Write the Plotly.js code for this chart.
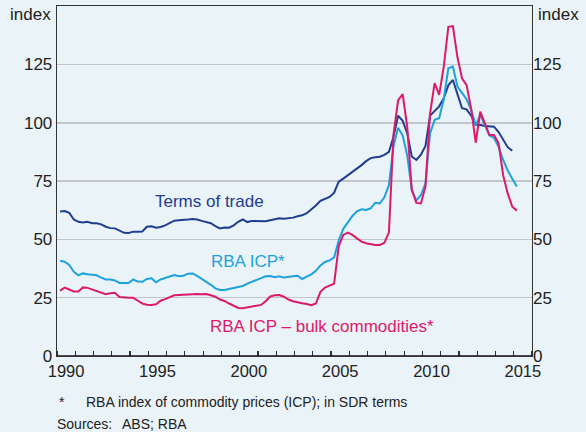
<!DOCTYPE html>
<html>
<head>
<meta charset="utf-8">
<script src="https://cdn.plot.ly/plotly-3.0.1.min.js"></script>
<style>
  html, body { margin:0; padding:0; background:#eaf3f7; }
  #chart { width:586px; height:432px; }
</style>
</head>
<body>
<div id="chart"></div>
<script>
// ---- Data (quarterly, from 1990 Q1) ----
const startYear = 1990;

const termsOfTrade = [
  61.9, 62.1, 61.4, 58.5,   57.5, 57.2, 57.5, 56.9,   56.9, 56.4, 55.4, 54.8,
  54.7, 53.7, 52.8, 52.7,   53.3, 53.3, 53.4, 55.4,   55.6, 55.0, 55.3, 56.0,
  56.9, 58.0, 58.2, 58.2,   58.5, 58.7, 58.5, 57.9,   57.5, 56.9, 55.7, 54.7,
  55.1, 55.0, 56.0, 57.5,   58.5, 57.4, 57.9, 57.9,   57.8, 57.8, 58.2, 58.5,
  59.0, 58.8, 58.9, 59.3,   59.9, 60.3, 61.2, 62.8,   64.5, 66.5, 67.5, 68.2,
  70.0, 74.7, 76.0, 77.4,   78.7, 80.2, 81.8, 83.5,   84.8, 85.2, 85.4, 86.2,
  87.5, 94.0, 103.0, 100.8, 95.5, 85.5, 84.0, 86.3,   90.0, 103.0, 105.2, 107.0,
  110.5, 116.0, 118.3, 112.5, 106.2, 105.7, 103.0, 99.0, 99.0, 98.6, 98.3, 98.3,
  96.0, 92.5, 89.5, 88.0
];

const icp = [
  40.8, 40.4, 39.0, 36.1,   34.6, 35.4, 35.0, 34.8,   34.6, 33.6, 32.8, 32.8,
  32.4, 31.3, 31.2, 31.3,   32.8, 31.9, 31.8, 33.0,   33.3, 31.6, 32.8, 33.4,
  34.0, 34.7, 34.2, 34.4,   35.3, 35.4, 34.3, 33.0,   32.0, 30.5, 29.0, 28.3,
  28.3, 28.7, 29.0, 29.3,   30.0, 31.0, 31.9, 32.8,   33.4, 34.2, 34.3, 33.8,
  34.2, 33.6, 34.0, 34.2,   34.4, 33.0, 34.0, 35.0,   36.5, 38.8, 40.3, 41.0,
  42.3, 49.5, 54.5, 57.5,   60.0, 62.0, 62.9, 62.6,   63.3, 65.7, 65.4, 68.0,
  73.3, 90.0, 97.8, 94.5,   86.0, 71.2, 66.6, 69.0,   74.0, 95.4, 101.2, 101.9,
  110.0, 123.3, 124.0, 115.5, 112.5, 110.0, 105.5, 98.8, 103.3, 99.0, 94.5, 93.5,
  89.7, 84.0, 79.5, 76.0,   72.6
];

const icpBulk = [
  28.0, 29.3, 28.5, 27.6,   27.6, 29.4, 29.2, 28.6,   28.0, 27.3, 26.5, 26.9,
  27.1, 25.3, 25.0, 25.0,   25.0, 23.6, 22.5, 22.0,   21.9, 22.2, 23.7, 24.4,
  25.1, 26.0, 26.1, 26.3,   26.4, 26.6, 26.6, 26.5,   26.6, 26.0, 25.4, 24.2,
  23.6, 22.5, 21.5, 20.6,   20.5, 20.8, 21.1, 21.4,   21.9, 23.5, 25.5, 26.0,
  26.1, 25.4, 24.2, 23.5,   22.9, 22.6, 22.3, 21.8,   22.5, 27.5, 29.3, 30.1,
  31.0, 47.0, 51.9, 52.9,   51.9, 50.4, 49.0, 48.3,   47.9, 47.6, 47.6, 48.5,
  53.0, 95.0, 109.5, 112.2, 98.3, 71.2, 65.6, 65.4,   72.6, 104.0, 116.9, 111.9,
  124.0, 141.1, 141.4, 128.0, 119.0, 116.1, 106.0, 91.4, 104.7, 99.7, 94.7, 94.7,
  91.2, 77.5, 69.7, 64.0,   62.3
];

const yearLabels = ['1990', '1995', '2000', '2005', '2010', '2015'];
const yTicks = [0, 25, 50, 75, 100, 125];

// ---- Helpers ----
function quarterX(arr){ return arr.map((_, i) => startYear + 0.17 + i * 0.25); }

const FONT = '"Liberation Sans", Arial, sans-serif';
const C_TOT = '#1f3d8f', C_ICP = '#1ea2dc', C_BULK = '#dc1a6b';

function line(y, color, name){
  return { type:'scatter', mode:'lines', name, x: quarterX(y), y,
    line:{ color, width:2 }, hoverinfo:'skip' };
}

const traces = [
  line(termsOfTrade, C_TOT, 'Terms of trade'),
  line(icp, C_ICP, 'RBA ICP*'),
  line(icpBulk, C_BULK, 'RBA ICP – bulk commodities*'),
  // right-hand axis carrier
  { type:'scatter', mode:'lines', x:[startYear], y:[0], yaxis:'y2', showlegend:false,
    line:{ width:0 }, hoverinfo:'skip' }
];

const txt = (text, x, y, color, extra) => Object.assign({
  text, x, y, xref:'x', yref:'y', showarrow:false,
  font:{ family:FONT, size:17, color }
}, extra || {});

const paperTxt = (text, x, y, anchor, size) => ({
  text, x, y, xref:'paper', yref:'paper', showarrow:false,
  xanchor:anchor, yanchor:'middle',
  font:{ family:FONT, size, color:'#222' }
});

const layout = {
  width:586, height:432,
  margin:{ l:57, r:54, t:6, b:76 },
  paper_bgcolor:'#eaf3f7', plot_bgcolor:'#eaf3f7',
  showlegend:false,
  font:{ family:FONT, color:'#222' },
  xaxis:{
    range:[1990, 2016], showgrid:false, zeroline:false,
    showline:true, mirror:true, linecolor:'#333', linewidth:1.3,
    tickmode:'array', tickvals: yearLabels.map(y => +y + 0.5), ticktext: yearLabels,
    ticks:'', tickfont:{ family:FONT, size:16.5, color:'#222' },
    minor:{ tick0:1990, dtick:1, ticks:'inside', ticklen:5, tickcolor:'#333', tickwidth:1.2, showgrid:false }
  },
  yaxis:{
    range:[0, 150], tickmode:'array', tickvals:yTicks, ticks:'',
    showgrid:true, gridcolor:'#c3c6c8', gridwidth:1.4, zeroline:false,
    showline:true, mirror:true, linecolor:'#333', linewidth:1.3,
    tickfont:{ family:FONT, size:17, color:'#222' }, ticklabelstandoff:0
  },
  yaxis2:{
    range:[0, 150], overlaying:'y', side:'right', tickmode:'array', tickvals:yTicks,
    ticks:'', showgrid:false, zeroline:false, showline:false,
    tickfont:{ family:FONT, size:17, color:'#222' }
  },
  shapes:[
    { type:'line', xref:'paper', x0:0, x1:1, yref:'y', y0:100, y1:100,
      line:{ color:'#444', width:1.3 }, layer:'below' },
    { type:'line', xref:'paper', x0:0, x1:1, yref:'y', y0:0, y1:0,
      line:{ color:'#111', width:1.5 } }
  ],
  annotations:[
    txt('Terms of trade', 1998.34, 66.1, C_TOT),
    txt('RBA ICP*', 2000.47, 40.4, C_ICP),
    txt('RBA ICP – bulk commodities*', 2004.52, 12.6, C_BULK),
    paperTxt('index', -0.008, 0.975, 'right', 17),
    paperTxt('index', 1.008, 0.975, 'left', 17),
    paperTxt('*', 0.0, -0.131, 'left', 14),
    paperTxt('RBA index of commodity prices (ICP); in SDR terms', 0.056, -0.131, 'left', 14),
    paperTxt('Sources:', -0.004, -0.193, 'left', 14),
    paperTxt('ABS; RBA', 0.132, -0.193, 'left', 14)
  ]
};

Plotly.newPlot('chart', traces, layout, { displayModeBar:false, staticPlot:true });
</script>
</body>
</html>
